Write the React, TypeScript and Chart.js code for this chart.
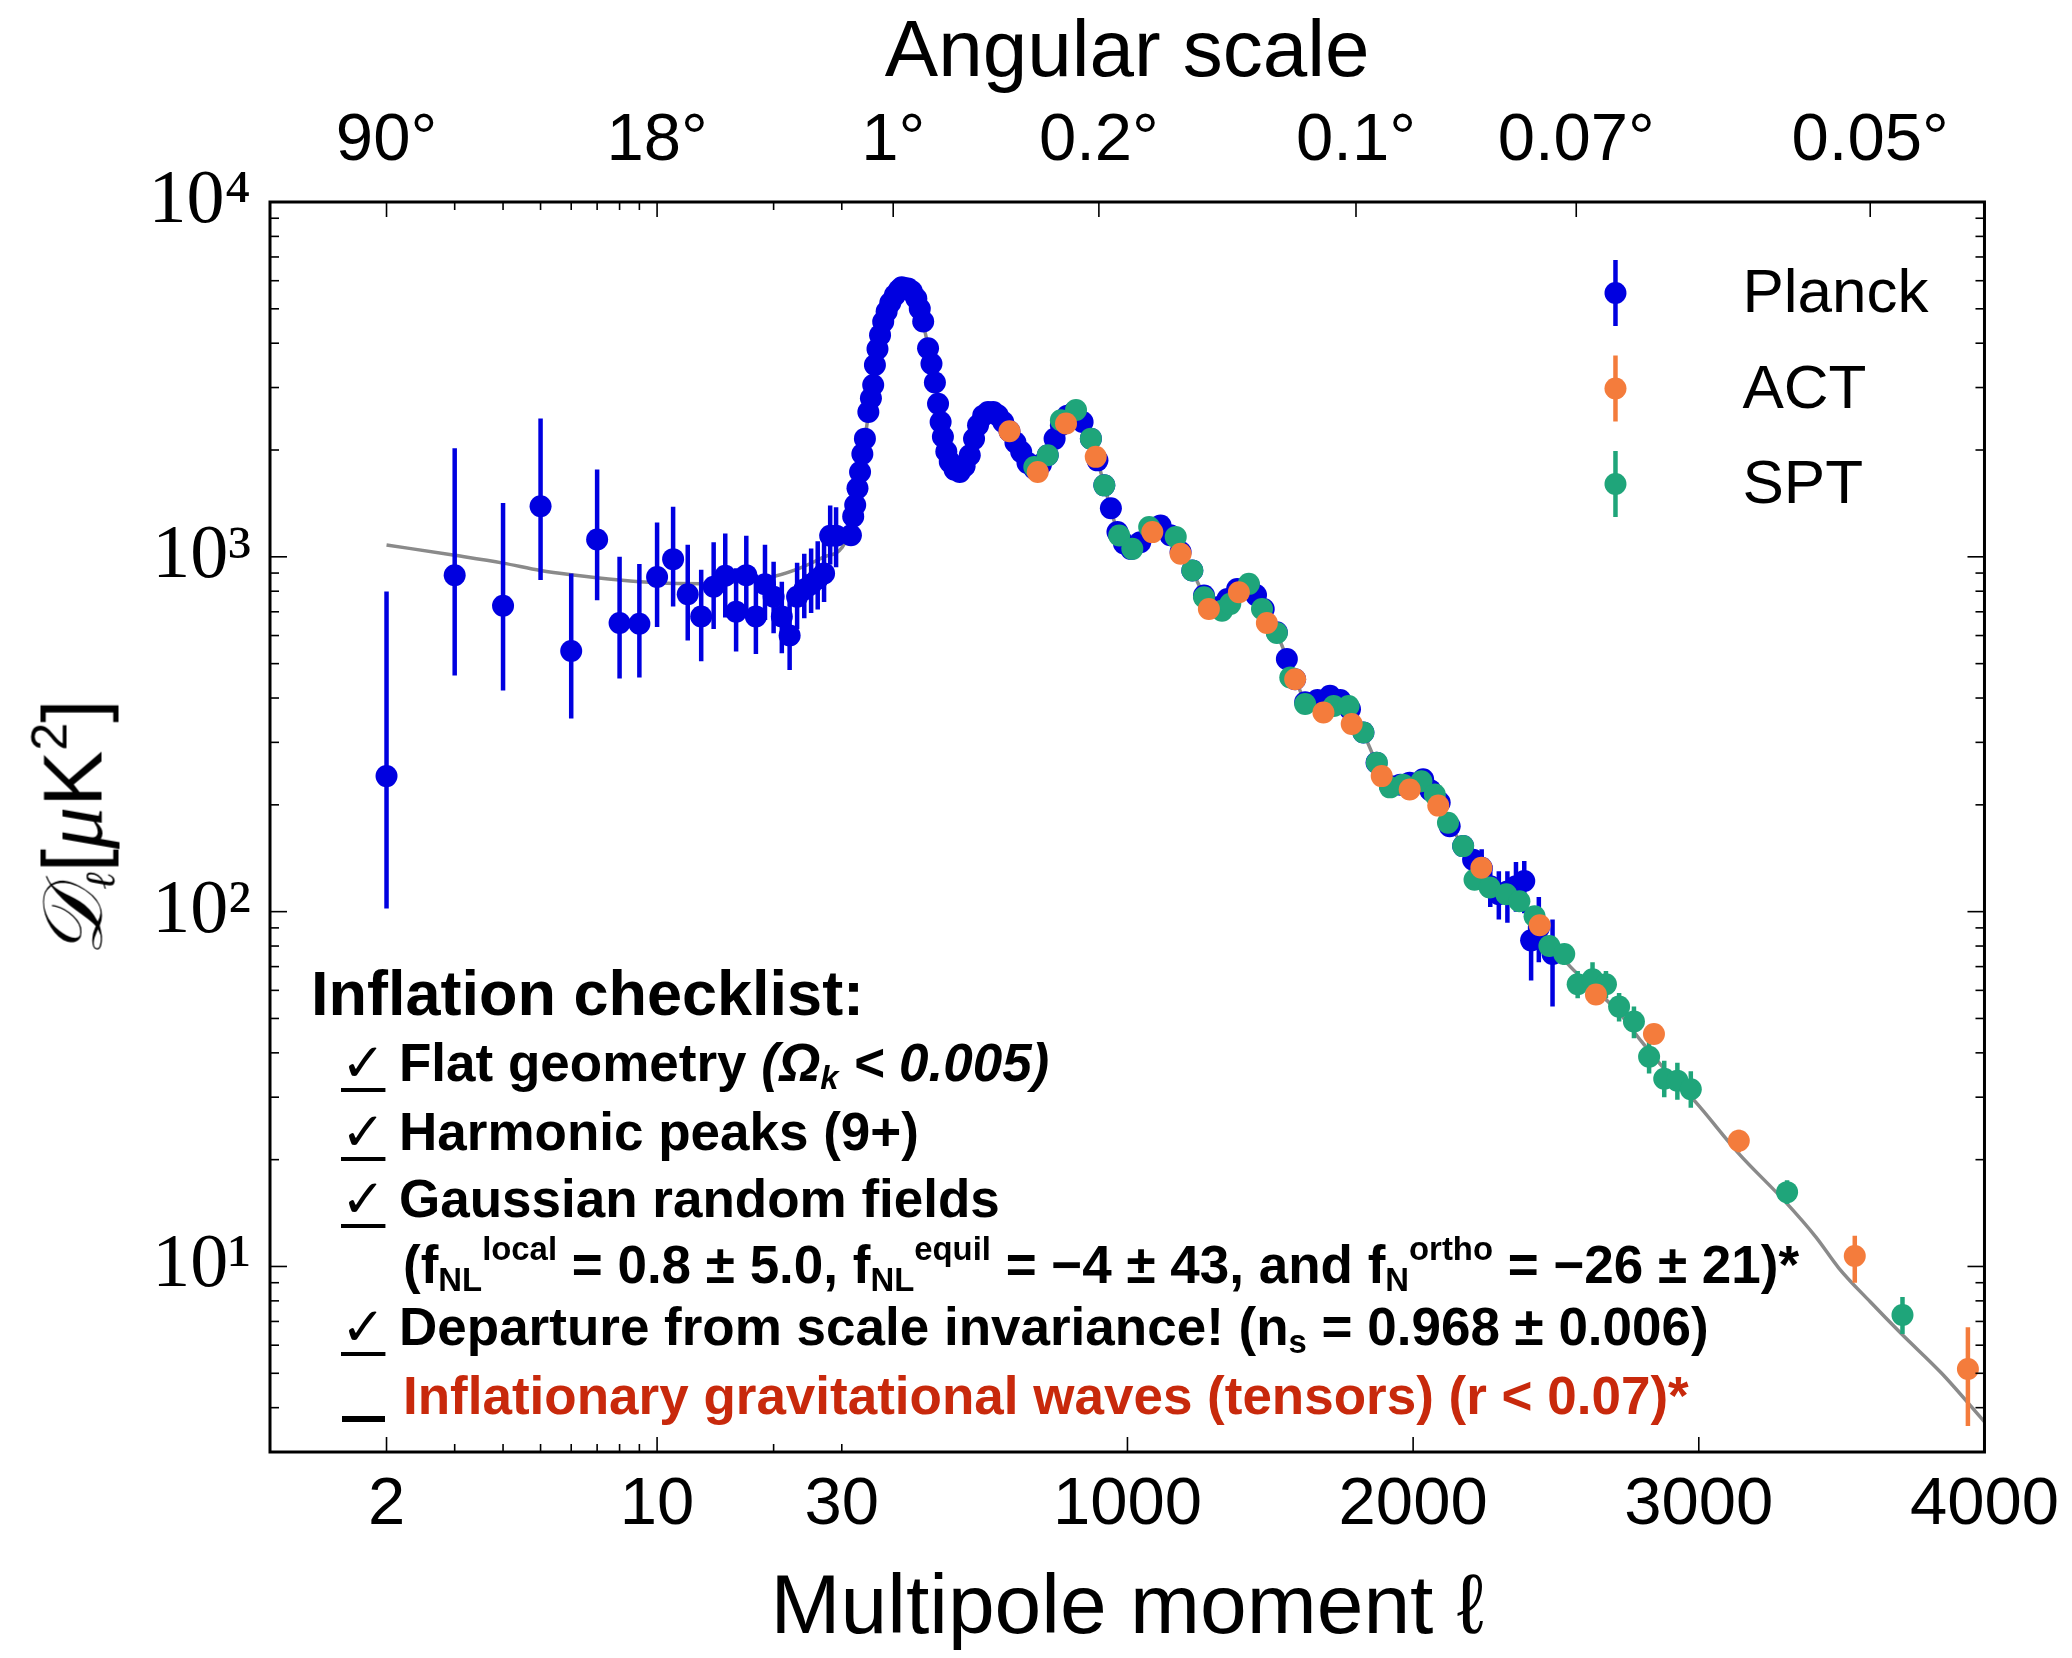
import React, { useEffect, useRef } from 'react';
import { Chart, Scale, registerables } from 'chart.js';

Chart.register(...registerables);

// ---------------- data (multipole ℓ, D_ℓ in μK²) ----------------
const THEORY_ELL = [2, 3, 4, 5, 6, 8, 10, 13, 16, 20, 24, 27, 30,
  40, 50, 60, 70, 80, 90, 100, 120, 140, 160, 180, 200, 220, 240, 260, 280, 300, 320, 340, 360,
  380, 400, 415, 430, 450, 470, 490, 510, 530, 550, 570, 590, 610, 630, 650, 675, 700, 720, 745, 770,
  795, 815, 840, 870, 895, 920, 945, 970, 995, 1015, 1045, 1080, 1120, 1150, 1185, 1230, 1270, 1315, 1350, 1385,
  1425, 1450, 1475, 1520, 1560, 1590, 1625, 1665, 1710, 1745, 1780, 1825, 1870, 1920, 1955, 1990, 2035, 2065, 2095, 2130,
  2175, 2240, 2290, 2330, 2370, 2430, 2480, 2550, 2640, 2720, 2800, 2880, 2990, 3140, 3300, 3410, 3490, 3600, 3710, 3850, 4000];
const THEORY_D = [1080, 1010, 960, 915, 890, 860, 845, 840, 850, 880, 940, 1000, 1060,
  1280, 1460, 1650, 1870, 2120, 2420, 2750, 3500, 4300, 4950, 5400, 5680, 5750, 5600, 5250, 4700, 4000, 3300, 2650, 2150,
  1850, 1730, 1710, 1760, 1920, 2150, 2380, 2520, 2560, 2500, 2380, 2230, 2060, 1930, 1830, 1780, 1810, 1920, 2130, 2380,
  2530, 2570, 2450, 2170, 1870, 1580, 1330, 1150, 1070, 1050, 1090, 1190, 1230, 1160, 1030, 900, 775, 720, 755, 815,
  830, 790, 715, 615, 515, 450, 392, 392, 405, 395, 372, 320, 265, 226, 226, 232, 235, 220, 202, 176,
  153, 133, 116, 110, 106, 94, 82, 70, 60, 52, 43, 36, 29, 20.8, 15.3, 12.1, 9.9, 7.95, 6.45, 5.0, 3.65];

const PLANCK_LOW_ELL = [2, 3, 4, 5, 6, 7, 8, 9, 10, 11, 12, 13, 14, 15, 16, 17, 18, 19, 20, 21, 22, 23, 24, 25, 26, 27, 28, 29];
const PLANCK_LOW_D = [241, 887, 728, 1389, 543, 1119, 651, 648, 877, 985, 784, 679, 823, 884, 700, 888, 679, 837, 772, 679, 600, 772, 809, 837, 867, 898, 1146, 1146];

const PLANCK_HIGH_ELL = [32, 40, 47, 55, 64, 72, 81, 93, 102, 110,
  116, 125, 134, 145, 157, 170, 186, 200, 210, 221,
  232, 245, 261, 273, 285, 302, 314, 326, 337, 346,
  354, 366, 378, 395, 413, 430, 448, 463, 477, 495,
  512, 530, 546, 565, 587, 608, 628, 650, 674, 697,
  721, 745, 767, 790, 814, 843, 872, 895, 919, 942,
  965, 988, 1012, 1045, 1081, 1116, 1150, 1186, 1227, 1268,
  1314, 1350, 1384, 1425, 1450, 1477, 1523, 1558, 1587, 1622,
  1665, 1709, 1745, 1779, 1826, 1872, 1919, 1955, 1988, 2035,
  2060, 2093, 2128, 2175, 2210, 2240, 2270, 2300, 2330, 2360,
  2389, 2413, 2440, 2488];
const PLANCK_HIGH_D = [1150, 1300, 1400, 1560, 1734, 1950, 2153, 2561, 2800, 3049,
  3474, 3850, 4215, 4600, 4912, 5200, 5464, 5650, 5750, 5716,
  5700, 5600, 5345, 5000, 4606, 3872, 3500, 3100, 2700, 2400,
  2180, 1980, 1852, 1760, 1734, 1800, 1933, 2150, 2350, 2500,
  2561, 2560, 2505, 2400, 2260, 2100, 1976, 1840, 1772, 1820,
  1933, 2150, 2350, 2500, 2561, 2400, 2153, 1870, 1590, 1370,
  1174, 1090, 1053, 1100, 1200, 1226, 1150, 1031, 915, 778,
  721, 760, 812, 830, 780, 713, 613, 515, 452, 389,
  395, 406, 395, 372, 320, 263, 226, 228, 231, 236,
  220, 203, 174, 153, 140, 133, 118, 112, 114, 118,
  122, 83, 90, 76];

const PLANCK_BAR_ELL = [2, 3, 4, 5, 6, 7, 8, 9, 10, 11, 12, 13, 14, 15, 16, 17, 18, 19, 20, 21, 22, 23, 24, 25, 26, 27, 28, 29,
  2240, 2270, 2300, 2330, 2360, 2389, 2413, 2440, 2488];
const PLANCK_BAR_LO = [102, 463, 420, 861, 350, 754, 454, 457, 634, 725, 581, 508, 626, 674, 541, 687, 532, 664, 609, 535, 480, 626, 671, 695, 711, 746, 951, 935,
  115, 103, 95, 93, 100, 99, 64, 72, 54];
const PLANCK_BAR_HI = [799, 2023, 1418, 2455, 898, 1761, 1000, 955, 1250, 1385, 1081, 919, 1099, 1164, 929, 1146, 891, 1081, 969, 851, 754, 962, 1020, 1055, 1106, 1186, 1395, 1380,
  150, 135, 130, 130, 138, 139, 103, 110, 95];

const ACT_ELL = [587, 686, 785, 889, 1087, 1186, 1285, 1390, 1488, 1587, 1686, 1785, 1890, 1988, 2088, 2239, 2443, 2640, 2843, 3140, 3546, 3942];
const ACT_D = [2260, 1734, 2376, 1913, 1174, 1020, 713, 795, 651, 452, 364, 338, 241, 221, 199, 133, 91.5, 58.4, 45.2, 22.6, 10.7, 5.14];
const ACT_BAR_ELL = [3140, 3546, 3942];
const ACT_BAR_LO = [21, 9.0, 3.55];
const ACT_BAR_HI = [24.3, 12.2, 6.74];

const SPT_ELL = [674, 721, 767, 820, 872, 919, 971, 1017, 1076, 1169, 1227, 1268, 1331, 1360, 1425, 1471, 1523, 1570, 1622, 1722,
  1774, 1826, 1873, 1919, 1965, 2029, 2076, 2122, 2175, 2215, 2268, 2326, 2372, 2425, 2477, 2529, 2576, 2628, 2675, 2721,
  2773, 2826, 2879, 2925, 2972, 3309, 3713];
const SPT_D = [1790, 1933, 2426, 2594, 2153, 1590, 1149, 1053, 1213, 1138, 915, 769, 705, 737, 839, 713, 610, 457, 385, 380,
  380, 320, 263, 224, 228, 233, 214, 178, 153, 123, 117, 112, 107, 97, 80, 76, 62.4, 64.5, 62.4, 54,
  49, 39, 33.8, 33.4, 31.6, 16.2, 7.3];
const SPT_BAR_ELL = [2529, 2576, 2628, 2675, 2721, 2773, 2826, 2879, 2925, 2972, 3309, 3713];
const SPT_BAR_LO = [71, 57, 58, 57, 49, 44, 35, 30, 29.5, 28, 15, 6.45];
const SPT_BAR_HI = [81, 68, 72, 68, 59, 54, 43, 38, 37.5, 35.5, 17.5, 8.2];

const SERIES_NAMES = ['Planck', 'ACT', 'SPT'];
const SERIES_COLORS = ['#0000e0', '#f47c3c', '#1fa57a'];
const THEORY_COLOR = '#8a8a8a';

const X_TICK_ELLS = [2, 10, 30, 1000, 2000, 3000, 4000];
const X_TICK_LABELS = ['2', '10', '30', '1000', '2000', '3000', '4000'];
const X_MAJOR_ELLS = [2, 10, 1000, 2000, 3000];
const X_MINOR_ELLS = [3, 4, 5, 6, 7, 8, 9, 20, 30];
const ANGLE_TICK_ELLS = [2, 10, 180, 900, 1800, 2571, 3600];
const ANGLE_TICK_LABELS = ['90°', '18°', '1°', '0.2°', '0.1°', '0.07°', '0.05°'];
const Y_TICKS = [10, 100, 1000, 10000];
const Y_TICK_LABELS = ['10¹', '10²', '10³', '10⁴'];
const Y_MINOR = [4, 5, 6, 7, 8, 9, 20, 30, 40, 50, 60, 70, 80, 90, 200, 300, 400, 500, 600, 700, 800, 900,
  2000, 3000, 4000, 5000, 6000, 7000, 8000, 9000];

// ---------------- hybrid ℓ axis: log below 30, linear above ----------------
const LOG_SPLIT = 30;
const LOG_UNITS_PER_DECADE = 1355;
function ellToU(l: number) {
  return l <= LOG_SPLIT ? LOG_UNITS_PER_DECADE * Math.log10(l / LOG_SPLIT) : l;
}
function uToEll(u: number) {
  return u <= 0 ? LOG_SPLIT * Math.pow(10, u / LOG_UNITS_PER_DECADE) : u;
}

class HybridEllScale extends (Scale as any) {
  static id = 'hybridEll';
  static defaults = {};
  determineDataLimits() {
    const o: any = this.options;
    this.min = o.min;
    this.max = o.max;
  }
  buildTicks() {
    const vals = this.id === 'x2' ? ANGLE_TICK_ELLS : X_TICK_ELLS;
    return vals.map((value) => ({ value }));
  }
  getLabelForValue(v: number) {
    return String(v);
  }
  getPixelForValue(v: number) {
    const a = ellToU(this.min);
    const b = ellToU(this.max);
    return this.getPixelForDecimal((ellToU(v) - a) / (b - a));
  }
  getValueForPixel(p: number) {
    const a = ellToU(this.min);
    const b = ellToU(this.max);
    return uToEll(a + this.getDecimalForPixel(p) * (b - a));
  }
}
Chart.register(HybridEllScale as any);

const BARS: Record<string, { ell: number[]; lo: number[]; hi: number[] }> = {
  Planck: { ell: PLANCK_BAR_ELL, lo: PLANCK_BAR_LO, hi: PLANCK_BAR_HI },
  ACT: { ell: ACT_BAR_ELL, lo: ACT_BAR_LO, hi: ACT_BAR_HI },
  SPT: { ell: SPT_BAR_ELL, lo: SPT_BAR_LO, hi: SPT_BAR_HI },
};

const errorBarPlugin = {
  id: 'errorBars',
  beforeDatasetDraw(chart: any, args: any) {
    const ds = chart.data.datasets[args.index];
    const bars = BARS[ds.label];
    if (!bars) return;
    const { ctx, chartArea: a } = chart;
    const xs = chart.scales.x;
    const ys = chart.scales.y;
    ctx.save();
    ctx.beginPath();
    ctx.rect(a.left, a.top, a.right - a.left, a.bottom - a.top);
    ctx.clip();
    ctx.strokeStyle = ds.backgroundColor;
    ctx.lineWidth = 4.5;
    bars.ell.forEach((l, i) => {
      const x = xs.getPixelForValue(l);
      ctx.beginPath();
      ctx.moveTo(x, ys.getPixelForValue(bars.lo[i]));
      ctx.lineTo(x, ys.getPixelForValue(bars.hi[i]));
      ctx.stroke();
    });
    ctx.restore();
  },
};

const frameTicksPlugin = {
  id: 'frameTicks',
  afterDatasetsDraw(chart: any) {
    const { ctx, chartArea: a, scales } = chart;
    const xs = scales.x;
    const xt = scales.x2;
    const ys = scales.y;
    ctx.save();
    ctx.strokeStyle = '#000';
    ctx.lineWidth = 1.6;
    const seg = (x0: number, y0: number, x1: number, y1: number) => {
      ctx.beginPath();
      ctx.moveTo(x0, y0);
      ctx.lineTo(x1, y1);
      ctx.stroke();
    };
    X_MAJOR_ELLS.forEach((l) => {
      const x = xs.getPixelForValue(l);
      seg(x, a.bottom, x, a.bottom - 15);
    });
    X_MINOR_ELLS.forEach((l) => {
      const x = xs.getPixelForValue(l);
      seg(x, a.bottom, x, a.bottom - 8);
      const x2 = xt.getPixelForValue(l);
      seg(x2, a.top, x2, a.top + 8);
    });
    ANGLE_TICK_ELLS.forEach((l) => {
      const x = xt.getPixelForValue(l);
      seg(x, a.top, x, a.top + 15);
    });
    Y_TICKS.forEach((v) => {
      const y = ys.getPixelForValue(v);
      seg(a.left, y, a.left + 17, y);
      seg(a.right, y, a.right - 17, y);
    });
    Y_MINOR.forEach((v) => {
      const y = ys.getPixelForValue(v);
      seg(a.left, y, a.left + 9, y);
      seg(a.right, y, a.right - 9, y);
    });
    ctx.lineWidth = 3;
    ctx.strokeRect(a.left, a.top, a.right - a.left, a.bottom - a.top);
    ctx.restore();
  },
};

const legendPlugin = {
  id: 'cmbLegend',
  afterDraw(chart: any) {
    const { ctx, chartArea: a } = chart;
    ctx.save();
    SERIES_NAMES.forEach((name, i) => {
      const x = a.right - 369;
      const y = a.top + 91 + i * 95.5;
      ctx.strokeStyle = SERIES_COLORS[i];
      ctx.fillStyle = SERIES_COLORS[i];
      ctx.lineWidth = 4.5;
      ctx.beginPath();
      ctx.moveTo(x, y - 33);
      ctx.lineTo(x, y + 33);
      ctx.stroke();
      ctx.beginPath();
      ctx.arc(x, y, 11, 0, Math.PI * 2);
      ctx.fill();
      ctx.fillStyle = '#000';
      ctx.font = '62px "Liberation Sans", Arial, sans-serif';
      ctx.textBaseline = 'middle';
      ctx.textAlign = 'left';
      ctx.fillText(name, x + 127, y + 2);
    });
    ctx.restore();
  },
};

const SANS = '"Liberation Sans", Arial, sans-serif';
const SERIF = '"Liberation Serif", "DejaVu Serif", serif';

function pts(ell: number[], d: number[]) {
  return ell.map((x, i) => ({ x, y: d[i] }));
}

export default function App() {
  const ref = useRef<HTMLCanvasElement>(null);
  useEffect(() => {
    if (!ref.current) return;
    const chart = new Chart(ref.current, {
      type: 'scatter',
      data: {
        datasets: [
          {
            label: 'Planck',
            data: [...pts(PLANCK_LOW_ELL, PLANCK_LOW_D), ...pts(PLANCK_HIGH_ELL, PLANCK_HIGH_D)],
            backgroundColor: SERIES_COLORS[0], borderColor: SERIES_COLORS[0],
            pointRadius: 11, pointBorderWidth: 0, order: 2, xAxisID: 'x', yAxisID: 'y',
          },
          {
            label: 'ACT',
            data: pts(ACT_ELL, ACT_D),
            backgroundColor: SERIES_COLORS[1], borderColor: SERIES_COLORS[1],
            pointRadius: 11, pointBorderWidth: 0, order: 0, xAxisID: 'x', yAxisID: 'y',
          },
          {
            label: 'SPT',
            data: pts(SPT_ELL, SPT_D),
            backgroundColor: SERIES_COLORS[2], borderColor: SERIES_COLORS[2],
            pointRadius: 11, pointBorderWidth: 0, order: 1, xAxisID: 'x', yAxisID: 'y',
          },
          {
            label: 'ΛCDM',
            data: pts(THEORY_ELL, THEORY_D),
            showLine: true, borderColor: THEORY_COLOR, backgroundColor: THEORY_COLOR, borderWidth: 3.5,
            pointRadius: 0, cubicInterpolationMode: 'monotone', order: 3, xAxisID: 'x', yAxisID: 'y',
          } as any,
        ],
      },
      options: {
        responsive: false,
        animation: false,
        devicePixelRatio: 1,
        events: [],
        layout: { padding: { left: 0, right: 82, top: 0, bottom: 0 } },
        plugins: { legend: { display: false }, tooltip: { enabled: false } },
        scales: {
          x: {
            type: 'hybridEll' as any,
            position: 'bottom',
            min: 1,
            max: 4000,
            grid: { display: false, drawTicks: false },
            border: { display: false },
            ticks: {
              autoSkip: false, maxRotation: 0, minRotation: 0, padding: 13, color: '#000',
              font: { family: SANS, size: 67, lineHeight: 1.2 },
              callback: (_v: any, i: number) => X_TICK_LABELS[i],
            },
            title: {
              display: true, text: 'Multipole moment ℓ', color: '#000',
              font: { family: SANS, size: 84, lineHeight: 1 },
              padding: { top: 0, bottom: 6 },
            },
            afterFit: (s: any) => { s.height = 206; },
          } as any,
          x2: {
            type: 'hybridEll' as any,
            position: 'top',
            min: 1,
            max: 4000,
            grid: { display: false, drawTicks: false },
            border: { display: false },
            ticks: {
              autoSkip: false, maxRotation: 0, minRotation: 0, padding: 20, color: '#000',
              font: { family: SANS, size: 67, lineHeight: 1.2 },
              callback: (_v: any, i: number) => ANGLE_TICK_LABELS[i],
            },
            title: {
              display: true, text: 'Angular scale', color: '#000',
              font: { family: SANS, size: 80, lineHeight: 1 },
              padding: { top: 14, bottom: 0 },
            },
            afterFit: (s: any) => { s.height = 202; },
          } as any,
          y: {
            type: 'logarithmic',
            position: 'left',
            min: 3,
            max: 10000,
            grid: { display: false, drawTicks: false },
            border: { display: false },
            afterBuildTicks: (s: any) => { s.ticks = Y_TICKS.map((value) => ({ value })); },
            ticks: {
              autoSkip: false, padding: 19, color: '#000',
              font: { family: SERIF, size: 76, lineHeight: 1.2 },
              callback: (_v: any, i: number) => Y_TICK_LABELS[i],
            },
            afterFit: (s: any) => { s.width = 270; },
          } as any,
        },
      },
      plugins: [errorBarPlugin, frameTicksPlugin, legendPlugin],
    } as any);
    return () => chart.destroy();
  }, []);

  const item = (top: number, left: number, size: number, color = '#000'): React.CSSProperties => ({
    position: 'absolute', top, left, fontSize: size, lineHeight: `${size}px`, fontFamily: SANS,
    fontWeight: 700, color, whiteSpace: 'nowrap',
  });
  const check: React.CSSProperties = {
    fontFamily: '"DejaVu Sans", sans-serif', fontWeight: 700, textDecoration: 'underline',
    textDecorationThickness: '4px', textUnderlineOffset: '7px',
  };
  const sub: React.CSSProperties = { fontSize: '0.62em', lineHeight: 0, verticalAlign: '-0.25em' };
  const sup: React.CSSProperties = { fontSize: '0.62em', lineHeight: 0, verticalAlign: '0.7em' };

  return (
    <div style={{ position: 'absolute', left: 0, top: 0, width: 2072, height: 1658, background: '#fff', overflow: 'hidden' }}>
      <canvas ref={ref} width={2072} height={1658} style={{ position: 'absolute', left: 0, top: 0, width: 2072, height: 1658 }} />
      <div style={{
        position: 'absolute', left: 73, top: 828, transform: 'translate(-50%, -50%) rotate(-90deg)',
        whiteSpace: 'nowrap', fontSize: 84, lineHeight: 1, fontFamily: SERIF, color: '#000',
      }}>
        <span style={{ fontStyle: 'italic' }}>𝒟</span>
        <span style={{ fontSize: '0.5em', fontStyle: 'italic', verticalAlign: '-0.3em', lineHeight: 0 }}>ℓ</span>
        <span style={{ fontFamily: SANS }}>[</span>
        <span style={{ fontStyle: 'italic' }}>μ</span>
        <span style={{ fontFamily: SANS }}>K</span>
        <span style={{ fontFamily: SANS, fontSize: '0.6em', verticalAlign: '0.7em', lineHeight: 0 }}>2</span>
        <span style={{ fontFamily: SANS }}>]</span>
      </div>

      <div style={item(962, 311, 63)}>Inflation checklist:</div>

      <div style={item(1036, 341, 53)}><span style={check}>✓</span></div>
      <div style={item(1036, 399, 53)}>
        Flat geometry <i>(Ω<span style={sub}>k</span> &lt; 0.005)</i>
      </div>

      <div style={item(1105, 341, 53)}><span style={check}>✓</span></div>
      <div style={item(1105, 399, 53)}>Harmonic peaks (9+)</div>

      <div style={item(1172, 341, 53)}><span style={check}>✓</span></div>
      <div style={item(1172, 399, 53)}>Gaussian random fields</div>

      <div style={item(1238, 403, 53)}>
        (f<span style={sub}>NL</span><span style={sup}>local</span> = 0.8 ± 5.0, f<span style={sub}>NL</span><span style={sup}>equil</span> = −4 ± 43, and f<span style={sub}>N</span><span style={sup}>ortho</span> = −26 ± 21)*
      </div>

      <div style={item(1300, 341, 53)}><span style={check}>✓</span></div>
      <div style={item(1300, 399, 53)}>
        Departure from scale invariance! (n<span style={sub}>s</span> = 0.968 ± 0.006)
      </div>

      <div style={{ position: 'absolute', left: 342, top: 1416, width: 43, height: 0, borderBottom: '6px solid #000' }} />
      <div style={item(1369, 403, 53, '#c8290c')}>
        Inflationary gravitational waves (tensors) (r &lt; 0.07)*
      </div>
    </div>
  );
}
